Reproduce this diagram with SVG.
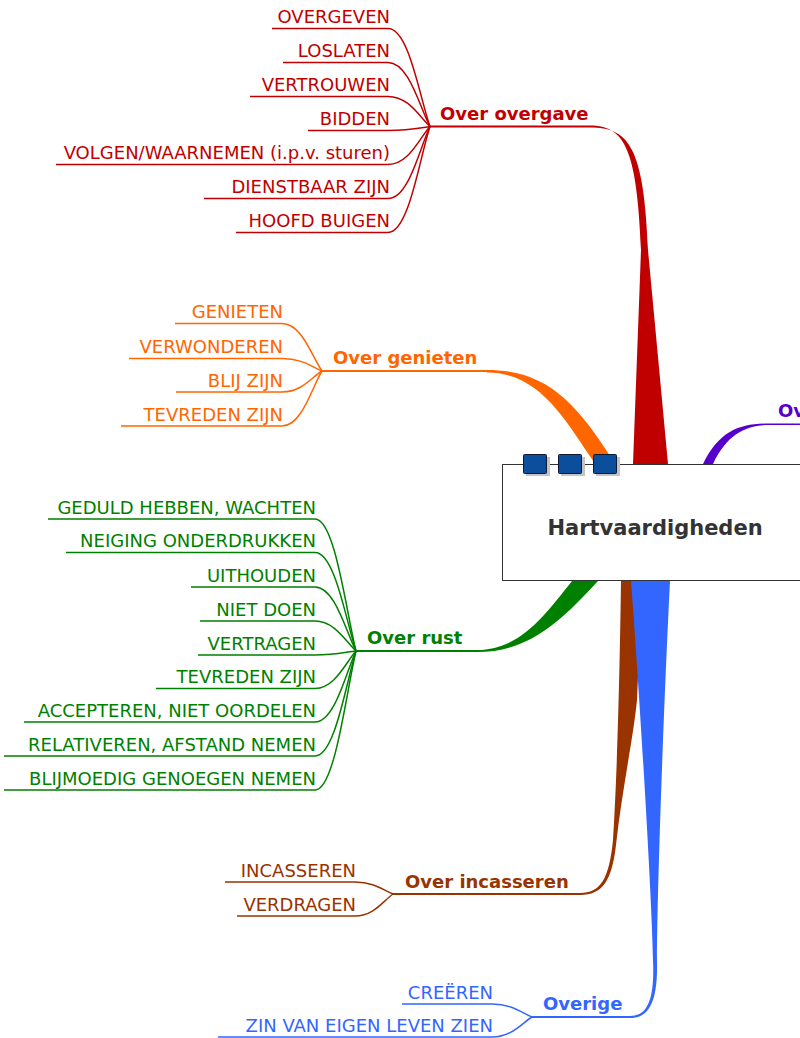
<svg xmlns="http://www.w3.org/2000/svg" width="800" height="1038" viewBox="0 0 800 1038">
<style>
text{font-family:"Comic Sans MS","DejaVu Sans",sans-serif}
.leaf{font-size:18px;text-anchor:end}
.main{font-size:18px;font-weight:bold}
.ln{fill:none;stroke-width:1.5}
.ul{fill:none;stroke-width:2}
.red{fill:#c00000}.redS{stroke:#c00000}
.org{fill:#ff6600}.orgS{stroke:#ff6600}
.grn{fill:#008000}.grnS{stroke:#008000}
.brn{fill:#993300}.brnS{stroke:#993300}
.blu{fill:#3366ff}.bluS{stroke:#3366ff}
.pur{fill:#5500cc}.purS{stroke:#5500cc}
.sq{fill:#0b4f9c;stroke:#0a1a33;stroke-width:1}
.sh{fill:#c4c4c4}
</style>
<g id="connectors">
<path class="red" d="M590,125.5 C625,125.5 637,150 641,250 L633,464 L668,464 L648,250 C644,145 628,127.5 590,127.5 Z"/>
<path class="org" d="M487,370 C545,370 575,400 614,462 L594,462 C565,420 540,372.5 487,372.5 Z"/>
<path class="grn" d="M477,652 C530,652 562,620 598,581 L572,581 C545,615 520,650 477,650 Z"/>
<path class="brn" d="M621,581 C620,650 618,760 613,840 C609,880 600,893 580,893 L580,895 C603,895 612,880 616,845 C622,790 633,740 637,700 L642,581 Z"/>
<path class="blu" d="M631,581 C640,700 652,900 653,960 C655,1005 645,1016 630,1016 L630,1018 C650,1018 658,1000 657,960 C657,900 663,720 670,581 Z"/>
<path class="pur" d="M703,464 C720,430 740,423.5 770,423.5 L800,423.5 L800,425 L770,425 C748,425 728,432 713,464 Z"/>
</g>
<g id="central">
<rect x="502.5" y="464.5" width="320" height="116" fill="#fff" stroke="#333" stroke-width="1"/>
<rect class="sh" x="526" y="457" width="24" height="19"/>
<rect class="sh" x="561" y="457" width="24" height="19"/>
<rect class="sh" x="596" y="457" width="24" height="19"/>
<rect class="sq" x="523.5" y="454.5" width="23" height="19" rx="1"/>
<rect class="sq" x="558.5" y="454.5" width="23" height="19" rx="1"/>
<rect class="sq" x="593.5" y="454.5" width="23" height="19" rx="1"/>
<text x="655" y="535" text-anchor="middle" font-size="21" font-weight="bold" fill="#333">Hartvaardigheden</text>
</g>
<g id="over-overgave">
<path class="ul redS" d="M430,126.5 H590"/>
<text class="main red" x="440" y="120">Over overgave</text>
<g class="ln redS">
<path d="M272,28.5 H388 C409,28.5 419.5,97 430,126.5"/>
<path d="M283,62.5 H388 C409,62.5 419.5,107 430,126.5"/>
<path d="M250,96.5 H388 C409,96.5 419.5,117 430,126.5"/>
<path d="M308,130.5 H388 C409,130.5 419.5,128 430,126.5"/>
<path d="M56,164.5 H388 C409,164.5 419.5,138 430,126.5"/>
<path d="M204,198.5 H388 C409,198.5 419.5,148 430,126.5"/>
<path d="M236,232.5 H388 C409,232.5 419.5,158 430,126.5"/>
</g>
<g class="red">
<text class="leaf" x="390" y="23">OVERGEVEN</text>
<text class="leaf" x="390" y="57">LOSLATEN</text>
<text class="leaf" x="390" y="91">VERTROUWEN</text>
<text class="leaf" x="390" y="125">BIDDEN</text>
<text class="leaf" x="390" y="159">VOLGEN/WAARNEMEN (i.p.v. sturen)</text>
<text class="leaf" x="390" y="193">DIENSTBAAR ZIJN</text>
<text class="leaf" x="390" y="227">HOOFD BUIGEN</text>
</g>
</g>
<g id="over-genieten">
<path class="ul orgS" d="M322,371 H488"/>
<text class="main org" x="333" y="364">Over genieten</text>
<g class="ln orgS">
<path d="M175,323.5 H282 C302,323.5 312,357 322,371"/>
<path d="M129,358.5 H282 C302,358.5 312,367 322,371"/>
<path d="M176,392 H282 C302,392 312,377 322,371"/>
<path d="M121,426 H282 C302,426 312,387 322,371"/>
</g>
<g class="org">
<text class="leaf" x="283" y="318">GENIETEN</text>
<text class="leaf" x="283" y="353">VERWONDEREN</text>
<text class="leaf" x="283" y="386.5">BLIJ ZIJN</text>
<text class="leaf" x="283" y="420.5">TEVREDEN ZIJN</text>
</g>
</g>
<g id="over-rust">
<path class="ul grnS" d="M356,651 H478"/>
<text class="main grn" x="367" y="644">Over rust</text>
<g class="ln grnS">
<path d="M48,519 H315 C335,519 346,611 356,651"/>
<path d="M66,552.5 H315 C335,552.5 346,621 356,651"/>
<path d="M191,587 H315 C335,587 346,632 356,651"/>
<path d="M200,621 H315 C335,621 346,642 356,651"/>
<path d="M198,655 H315 C335,655 346,652 356,651"/>
<path d="M156,688.5 H315 C335,688.5 346,662 356,651"/>
<path d="M24,722 H315 C335,722 346,672 356,651"/>
<path d="M4,756 H315 C335,756 346,683 356,651"/>
<path d="M4,790 H315 C335,790 346,693 356,651"/>
</g>
<g class="grn">
<text class="leaf" x="316" y="513.5">GEDULD HEBBEN, WACHTEN</text>
<text class="leaf" x="316" y="547">NEIGING ONDERDRUKKEN</text>
<text class="leaf" x="316" y="581.5">UITHOUDEN</text>
<text class="leaf" x="316" y="615.5">NIET DOEN</text>
<text class="leaf" x="316" y="649.5">VERTRAGEN</text>
<text class="leaf" x="316" y="683">TEVREDEN ZIJN</text>
<text class="leaf" x="316" y="716.5">ACCEPTEREN, NIET OORDELEN</text>
<text class="leaf" x="316" y="750.5">RELATIVEREN, AFSTAND NEMEN</text>
<text class="leaf" x="316" y="784.5">BLIJMOEDIG GENOEGEN NEMEN</text>
</g>
</g>
<g id="over-incasseren">
<path class="ul brnS" d="M393,894 H582"/>
<text class="main brn" x="405" y="888">Over incasseren</text>
<g class="ln brnS">
<path d="M225,882 H355 C374,882 383,890 393,894"/>
<path d="M237,916 H355 C374,916 383,901 393,894"/>
</g>
<g class="brn">
<text class="leaf" x="356" y="876.5">INCASSEREN</text>
<text class="leaf" x="356" y="910.5">VERDRAGEN</text>
</g>
</g>
<g id="overige">
<path class="ul bluS" d="M532,1017 H631"/>
<text class="main blu" x="543" y="1010">Overige</text>
<g class="ln bluS">
<path d="M402,1004 H492 C512,1004 522,1013 532,1017"/>
<path d="M218,1037 H492 C512,1037 522,1023 532,1017"/>
</g>
<g class="blu">
<text class="leaf" x="493" y="998.5">CREËREN</text>
<text class="leaf" x="493" y="1031.5">ZIN VAN EIGEN LEVEN ZIEN</text>
</g>
</g>
<g id="over-purple">
<text class="main pur" x="778" y="417">Ov</text>
</g>
</svg>
